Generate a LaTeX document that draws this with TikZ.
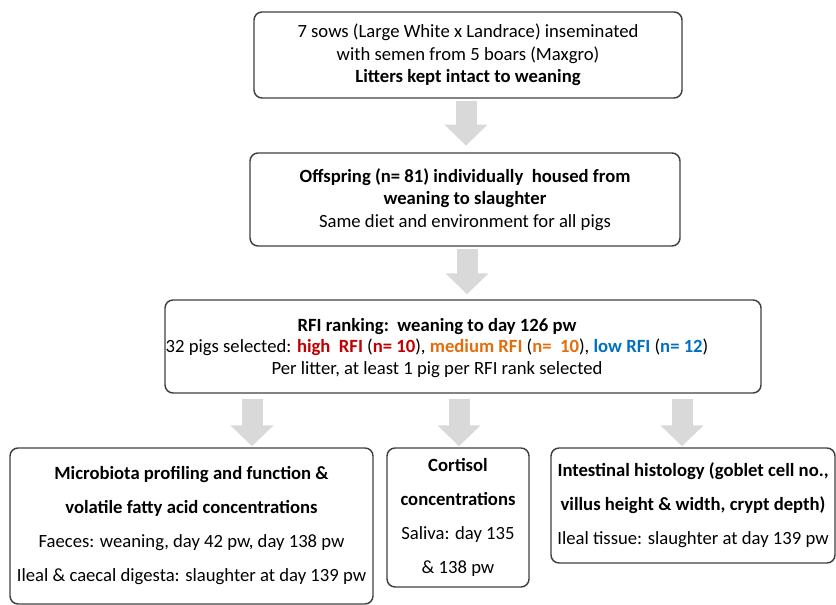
\documentclass[tikz,border=0pt]{standalone}
\usepackage{fontspec}
\setmainfont{Carlito}
\usepackage{tikz}
\usetikzlibrary{arrows.meta}
\definecolor{boxline}{HTML}{404040}
\definecolor{arrowgrey}{HTML}{D9D9D9}
\definecolor{rfihigh}{HTML}{C00000}
\definecolor{rfimed}{HTML}{E46C0A}
\definecolor{rfilow}{HTML}{0070C0}
\newcommand{\rank}[2]{\textcolor{#1}{\textbf{#2}}}

\begin{document}
\begin{tikzpicture}[x=0.75pt,y=0.75pt]
\tikzstyle{every node}+=[inner sep=0pt]
\tikzstyle{stage}=[draw=boxline, line width=1.1pt, rounded corners=6pt, align=center, font=\fontsize{14}{17}\selectfont]
\tikzstyle{outcome}=[stage, font=\fontsize{14}{25.5}\selectfont]
\tikzstyle{flow}=[arrowgrey, line width=15.75pt, -{Triangle[width=31.5pt,length=15.75pt]}]
\useasboundingbox (0,0) rectangle (836,-605);
% boxes
\node [stage, minimum width=321pt, minimum height=64.5pt] (sows) at (468,-55) {7 sows (Large White x Landrace) inseminated\\ with semen from 5 boars (Maxgro)\\ \textbf{Litters kept intact to weaning}};
\node [stage, minimum width=322.5pt, minimum height=69.75pt] (offspring) at (465,-199.5) {\textbf{Offspring (n= 81) individually\ \ housed from}\\ \textbf{weaning to slaughter}\\ Same diet and environment for all pigs};
\node [stage, minimum width=447pt, minimum height=69.75pt] (rfi) at (463,-346.5) {};
\node [align=center, font=\fontsize{14}{16}\selectfont] (rfitext) at (437,-348) {\textbf{RFI ranking:\ \ weaning to day 126 pw}\\ 32 pigs selected: \rank{rfihigh}{high\ \ RFI} (\rank{rfihigh}{n= 10}), \rank{rfimed}{medium RFI} (\rank{rfimed}{n=\ \ 10}), \rank{rfilow}{low RFI} (\rank{rfilow}{n= 12})\\ Per litter, at least 1 pig per RFI rank selected};
\node [outcome, minimum width=272.25pt, minimum height=117pt] (microbiota) at (191.5,-526) {\textbf{Microbiota profiling and function \&}\\ \textbf{volatile fatty acid concentrations}\\ Faeces: weaning, day 42 pw, day 138 pw\\ Ileal \& caecal digesta: slaughter at day 139 pw};
\node [outcome, minimum width=106.5pt, minimum height=104.25pt] (cortisol) at (458,-517.5) {\textbf{Cortisol}\\ \textbf{concentrations}\\ Saliva: day 135\\ \& 138 pw};
\node [outcome, minimum width=213pt, minimum height=86.25pt] (histology) at (693,-505.5) {\textbf{Intestinal histology (goblet cell no.,}\\ \textbf{villus height \& width, crypt depth)}\\ Ileal tissue: slaughter at day 139 pw};
% arrow columns
\coordinate (colA) at (466,0);
\coordinate (colB) at (467,0);
\coordinate (colL) at (252,0);
\coordinate (colM) at (459,0);
\coordinate (colR) at (682,0);
% arrows
\draw [flow, shorten <=1.5pt, shorten >=5pt] (sows.south -| colA) -- (offspring.north -| colA);
\draw [flow, shorten <=1.5pt, shorten >=3.75pt] (offspring.south -| colB) -- (rfi.north -| colB);
\draw [flow, shorten <=3.75pt, shorten >=0.75pt] (rfi.south -| colL) -- (microbiota.north -| colL);
\draw [flow, shorten <=3.75pt, shorten >=0.75pt] (rfi.south -| colM) -- (cortisol.north -| colM);
\draw [flow, shorten <=3.75pt, shorten >=0.75pt] (rfi.south -| colR) -- (histology.north -| colR);
\end{tikzpicture}
\end{document}
